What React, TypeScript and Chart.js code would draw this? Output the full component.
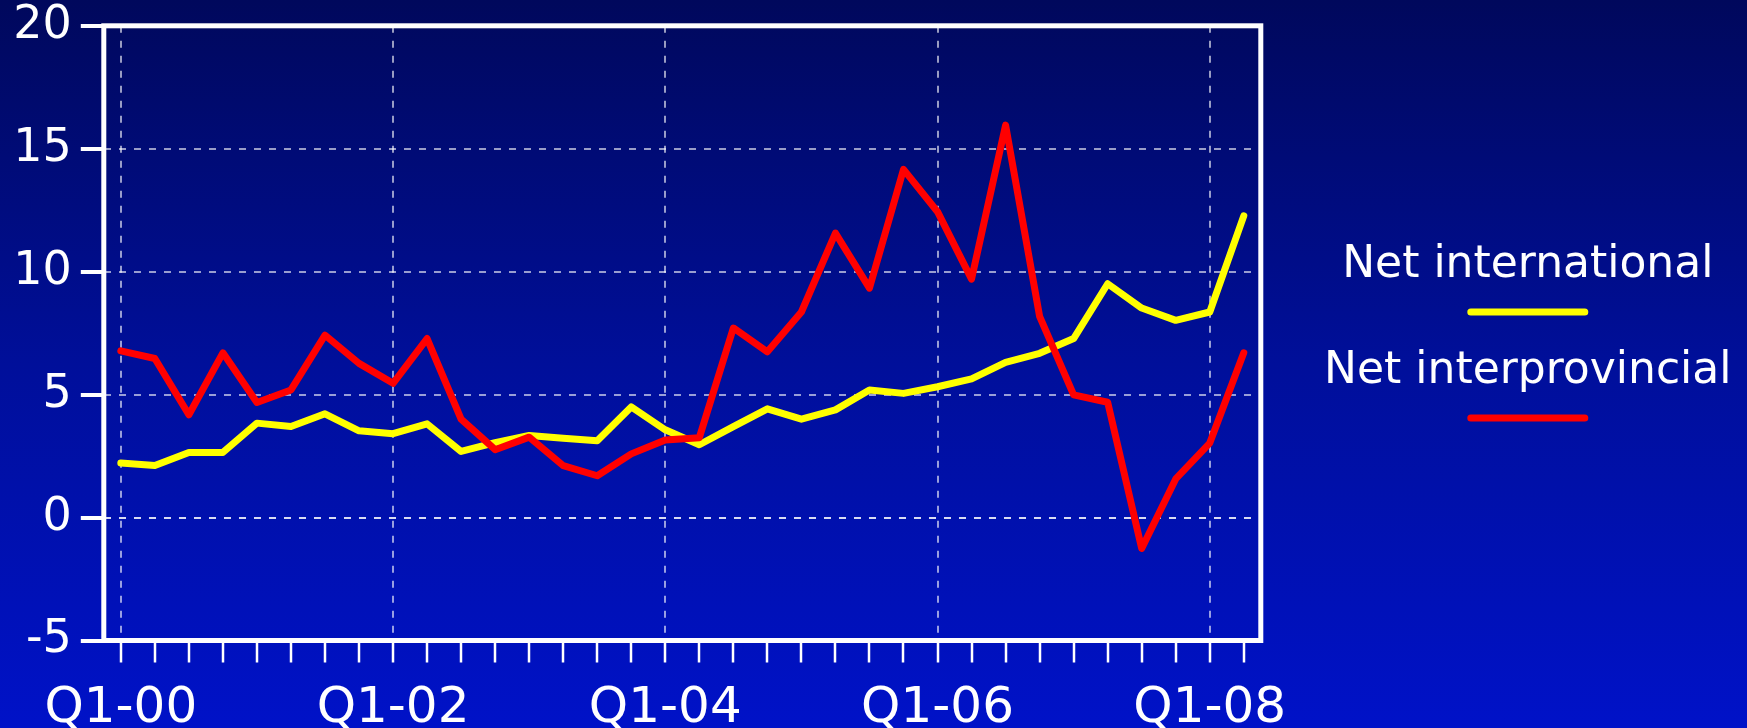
import React, { useEffect, useRef } from "react";
import { Chart, registerables } from "chart.js";

Chart.register(...registerables);

const quarters = [
  "Q1-00", "Q2-00", "Q3-00", "Q4-00",
  "Q1-01", "Q2-01", "Q3-01", "Q4-01",
  "Q1-02", "Q2-02", "Q3-02", "Q4-02",
  "Q1-03", "Q2-03", "Q3-03", "Q4-03",
  "Q1-04", "Q2-04", "Q3-04", "Q4-04",
  "Q1-05", "Q2-05", "Q3-05", "Q4-05",
  "Q1-06", "Q2-06", "Q3-06", "Q4-06",
  "Q1-07", "Q2-07", "Q3-07", "Q4-07",
  "Q1-08", "Q2-08",
];

const netInternational = [
  2.22, 2.12, 2.65, 2.65, 3.84, 3.7, 4.22, 3.53, 3.41, 3.81, 2.69, 3.05,
  3.34, 3.23, 3.12, 4.5, 3.57, 2.96, 3.7, 4.42, 4.0, 4.38, 5.19, 5.05,
  5.32, 5.64, 6.31, 6.68, 7.28, 9.51, 8.52, 8.02, 8.36, 12.27,
];

const netInterprovincial = [
  6.78, 6.47, 4.18, 6.7, 4.68, 5.19, 7.42, 6.27, 5.46, 7.28, 4.0, 2.76,
  3.27, 2.11, 1.7, 2.59, 3.15, 3.25, 7.71, 6.74, 8.36, 11.57, 9.33, 14.16,
  12.44, 9.7, 15.96, 8.18, 4.99, 4.69, -1.26, 1.57, 3.03, 6.7,
];

const seriesNames = ["Net international", "Net interprovincial"];
const seriesColors = ["#ffff00", "#ff0000"];

const yMin = -5;
const yMax = 20;
const yStep = 5;
const labelEvery = 8;

const FONT = "'DejaVu Sans', Verdana, sans-serif";

const framePlugin = {
  id: "frame",
  beforeDatasetsDraw(chart: any) {
    const { ctx, chartArea: a } = chart;
    ctx.save();
    ctx.strokeStyle = "#ffffff";
    ctx.lineWidth = 5;
    ctx.strokeRect(a.left, a.top, a.right - a.left, a.bottom - a.top);
    ctx.restore();
  },
};

const legendPlugin = {
  id: "sideLegend",
  afterDraw(chart: any) {
    const { ctx, chartArea: a } = chart;
    const cx = a.right + 267;
    ctx.save();
    ctx.font = `44px ${FONT}`;
    ctx.fillStyle = "#ffffff";
    ctx.textAlign = "center";
    ctx.textBaseline = "alphabetic";
    const rows = [
      { text: seriesNames[0], color: seriesColors[0], base: 277, line: 312 },
      { text: seriesNames[1], color: seriesColors[1], base: 383, line: 418 },
    ];
    rows.forEach((r) => {
      ctx.fillText(r.text, cx, r.base);
      ctx.beginPath();
      ctx.strokeStyle = r.color;
      ctx.lineWidth = 7;
      ctx.lineCap = "round";
      ctx.moveTo(cx - 57, r.line);
      ctx.lineTo(cx + 57, r.line);
      ctx.stroke();
    });
    ctx.restore();
  },
};

export default function App() {
  const ref = useRef<HTMLCanvasElement | null>(null);

  useEffect(() => {
    if (!ref.current) return;
    const chart = new Chart(ref.current, {
      type: "line",
      data: {
        labels: quarters,
        datasets: [
          {
            label: seriesNames[0],
            data: netInternational,
            borderColor: seriesColors[0],
            backgroundColor: seriesColors[0],
            borderWidth: 7,
            pointRadius: 0,
            tension: 0,
            borderJoinStyle: "round",
            borderCapStyle: "round",
            order: 1,
          },
          {
            label: seriesNames[1],
            data: netInterprovincial,
            borderColor: seriesColors[1],
            backgroundColor: seriesColors[1],
            borderWidth: 7,
            pointRadius: 0,
            tension: 0,
            borderJoinStyle: "round",
            borderCapStyle: "round",
            order: 0,
          },
        ],
      },
      options: {
        responsive: false,
        animation: false,
        events: [],
        layout: { padding: { top: 25.8, right: 486.2, left: 0, bottom: 0 } },
        plugins: {
          legend: { display: false },
          tooltip: { enabled: false },
        },
        scales: {
          x: {
            type: "category",
            offset: true,
            afterFit: (s: any) => {
              s.height = 87.5;
              s.paddingLeft = 0;
              s.paddingRight = 0;
            },
            grid: {
              offset: false,
              lineWidth: 2,
              color: (c: any) =>
                c.index % labelEvery === 0 ? "rgba(255,255,255,0.6)" : "rgba(0,0,0,0)",
              tickColor: "#ffffff",
              tickWidth: 2.5,
              tickLength: 22,
            },
            border: { display: false, dash: [7, 8] },
            ticks: {
              autoSkip: false,
              maxRotation: 0,
              minRotation: 0,
              padding: 17,
              color: "#ffffff",
              font: { family: FONT, size: 50 },
              callback: (_v: any, i: number) => (i % labelEvery === 0 ? quarters[i] : ""),
            },
          },
          y: {
            min: yMin,
            max: yMax,
            afterFit: (s: any) => {
              s.width = 103.8;
              s.paddingTop = 0;
              s.paddingBottom = 0;
            },
            grid: {
              lineWidth: 2,
              color: (c: any) =>
                c.tick && c.tick.value === 0 ? "rgba(255,255,255,0.85)" : "rgba(255,255,255,0.6)",
              tickColor: "#ffffff",
              tickWidth: 4,
              tickLength: 23,
            },
            border: { display: false, dash: [7, 8] },
            ticks: {
              stepSize: yStep,
              padding: 9,
              color: "#ffffff",
              font: { family: FONT, size: 46 },
            },
          },
        },
      },
      plugins: [framePlugin, legendPlugin],
    });
    return () => chart.destroy();
  }, []);

  return (
    <div
      style={{
        position: "fixed",
        left: 0,
        top: 0,
        width: 1747,
        height: 728,
        background: "linear-gradient(to bottom, #00085c 0%, #000f9a 50%, #0012c8 100%)",
        overflow: "hidden",
      }}
    >
      <canvas ref={ref} width={1747} height={728} style={{ display: "block" }} />
    </div>
  );
}
